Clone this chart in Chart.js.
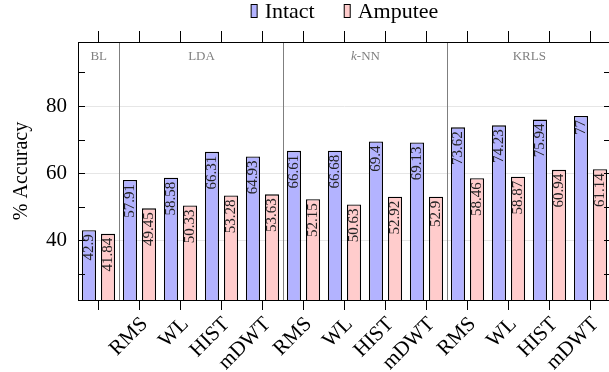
<!DOCTYPE html>
<html>
<head>
<meta charset="utf-8">
<script src="https://cdn.jsdelivr.net/npm/chart.js@4"></script>
<style>
  html, body { margin: 0; padding: 0; overflow: hidden; background: #fff; }
  #wrap { width: 612px; height: 372px; }
</style>
</head>
<body>
<div id="wrap"><canvas id="accChart" width="612" height="372"></canvas></div>
<script>
const features = ["", "RMS", "WL", "HIST", "mDWT", "RMS", "WL", "HIST", "mDWT", "RMS", "WL", "HIST", "mDWT"];
const intact = [42.9, 57.91, 58.58, 66.31, 64.93, 66.61, 66.68, 69.4, 69.13, 73.62, 74.23, 75.94, 77];
const amputee = [41.84, 49.45, 50.33, 53.28, 53.63, 52.15, 50.63, 52.92, 52.9, 58.46, 58.87, 60.94, 61.14];
const groups = ["BL", "LDA", "k-NN", "KRLS"];
const groupStarts = [0, 1, 5, 9];
const yTicks = [30, 40, 50, 60, 70, 80, 90];
const yLabelled = [40, 60, 80];

const serif = "'Liberation Serif', 'DejaVu Serif', serif";

// frame, group separators, inward y ticks, bar value labels, group names, legend
const decor = {
  id: "decor",
  beforeDatasetsDraw(chart) {
    const { ctx, chartArea: a, scales } = chart;
    ctx.save();
    ctx.strokeStyle = "#e6e6e6";
    ctx.lineWidth = 1;
    yLabelled.forEach(v => {
      const y = Math.round(scales.y.getPixelForValue(v)) + 0.5;
      ctx.beginPath(); ctx.moveTo(a.left, y); ctx.lineTo(a.right, y); ctx.stroke();
    });
    ctx.restore();
  },
  afterDatasetsDraw(chart) {
    const { ctx, chartArea: a, scales } = chart;
    const x = scales.x, y = scales.y;
    ctx.save();

    // value labels inside bars
    ctx.fillStyle = "#222";
    ctx.font = "15px " + serif;
    ctx.textAlign = "right";
    ctx.textBaseline = "middle";
    chart.data.datasets.forEach((ds, di) => {
      chart.getDatasetMeta(di).data.forEach((bar, i) => {
        ctx.save();
        ctx.translate(bar.x + 0.5, bar.y + 4);
        ctx.rotate(-Math.PI / 2);
        ctx.fillText(String(ds.data[i]), 0, 0);
        ctx.restore();
      });
    });

    // group separators
    ctx.strokeStyle = "#7f7f7f";
    ctx.lineWidth = 1;
    const bounds = [a.left];
    groupStarts.slice(1).forEach(s => {
      const px = Math.round((x.getPixelForValue(s - 1) + x.getPixelForValue(s)) / 2) + 0.5;
      bounds.push(px);
      ctx.beginPath(); ctx.moveTo(px, a.top); ctx.lineTo(px, a.bottom); ctx.stroke();
    });
    bounds.push(a.right);

    // group names
    ctx.fillStyle = "#808080";
    ctx.font = "13px " + serif;
    ctx.textAlign = "center";
    ctx.textBaseline = "middle";
    groups.forEach((g, i) => {
      const cx = (bounds[i] + bounds[i + 1]) / 2;
      if (g === "k-NN") {
        ctx.font = "italic 13px " + serif;
        const w1 = ctx.measureText("k").width;
        ctx.font = "13px " + serif;
        const w2 = ctx.measureText("-NN").width;
        const sx = cx - (w1 + w2) / 2;
        ctx.textAlign = "left";
        ctx.font = "italic 13px " + serif;
        ctx.fillText("k", sx, a.top + 15);
        ctx.font = "13px " + serif;
        ctx.fillText("-NN", sx + w1, a.top + 15);
        ctx.textAlign = "center";
      } else {
        ctx.fillText(g, cx, a.top + 15);
      }
    });

    // inward ticks left and right
    ctx.strokeStyle = "#000";
    yTicks.forEach(v => {
      const py = Math.round(y.getPixelForValue(v)) + 0.5;
      ctx.beginPath();
      ctx.moveTo(a.left, py); ctx.lineTo(a.left + 7, py);
      ctx.moveTo(a.right, py); ctx.lineTo(a.right - 7, py);
      ctx.stroke();
    });

    // frame
    ctx.strokeRect(a.left + 0.5, a.top + 0.5, a.right - a.left - 1, a.bottom - a.top);

    // legend
    const items = chart.data.datasets.map(ds => ({ text: ds.label, fill: ds.backgroundColor }));
    ctx.font = "22px " + serif;
    ctx.textAlign = "left";
    ctx.textBaseline = "middle";
    const box = 6, gapBox = 8, gapItem = 29;
    let total = 0;
    items.forEach((it, i) => {
      total += box + gapBox + ctx.measureText(it.text).width + (i < items.length - 1 ? gapItem : 0);
    });
    let lx = (a.left + a.right) / 2 - total / 2;
    const ly = 11;
    items.forEach(it => {
      ctx.fillStyle = it.fill;
      ctx.fillRect(lx + 0.5, ly - 6.5, box, 13);
      ctx.strokeStyle = "#000";
      ctx.strokeRect(lx + 0.5, ly - 6.5, box, 13);
      ctx.fillStyle = "#000";
      ctx.fillText(it.text, lx + box + gapBox, ly + 1);
      lx += box + gapBox + ctx.measureText(it.text).width + gapItem;
    });

    ctx.restore();
  }
};

new Chart(document.getElementById("accChart").getContext("2d"), {
  type: "bar",
  data: {
    labels: features,
    datasets: [
      {
        label: "Intact",
        data: intact,
        backgroundColor: "#b3b3ff",
        borderColor: "#000",
        borderWidth: 1.3,
        borderSkipped: false,
        barPercentage: 0.74,
        categoryPercentage: 0.93
      },
      {
        label: "Amputee",
        data: amputee,
        backgroundColor: "#ffcccc",
        borderColor: "#000",
        borderWidth: 1.3,
        borderSkipped: false,
        barPercentage: 0.74,
        categoryPercentage: 0.93
      }
    ]
  },
  options: {
    responsive: false,
    animation: false,
    events: [],
    layout: { padding: { left: 0, right: 1, top: 0, bottom: 0 } },
    plugins: {
      legend: { display: false },
      tooltip: { enabled: false }
    },
    scales: {
      x: {
        type: "category",
        position: "bottom",
        offset: true,
        border: { display: false },
        grid: { offset: false, drawOnChartArea: false, drawTicks: true, tickLength: 10, tickColor: "#000", lineWidth: 1 },
        ticks: {
          autoSkip: false,
          minRotation: 45,
          maxRotation: 45,
          padding: 2,
          labelOffset: 5,
          color: "#000",
          font: { family: serif, size: 21 }
        },
        afterFit(s) { s.height = 72; }
      },
      x2: {
        type: "category",
        position: "top",
        offset: true,
        border: { display: false },
        grid: { offset: false, drawOnChartArea: false, drawTicks: true, tickLength: 11, tickColor: "#000", lineWidth: 1 },
        ticks: { display: false },
        afterFit(s) { s.height = 42; }
      },
      y: {
        min: 22.1,
        max: 99.1,
        border: { display: false },
        afterBuildTicks(s) { s.ticks = yTicks.map(v => ({ value: v })); },
        grid: { display: false, drawTicks: false },
        ticks: {
          padding: 11,
          color: "#000",
          font: { family: serif, size: 21 },
          callback: v => (yLabelled.includes(v) ? String(v) : "")
        },
        title: {
          display: true,
          text: "% Accuracy",
          color: "#000",
          font: { family: serif, size: 20, lineHeight: 1.2 },
          padding: { top: 10, bottom: 0 }
        },
        afterFit(s) { s.width = 78; }
      }
    }
  },
  plugins: [decor]
});
</script>
</body>
</html>
